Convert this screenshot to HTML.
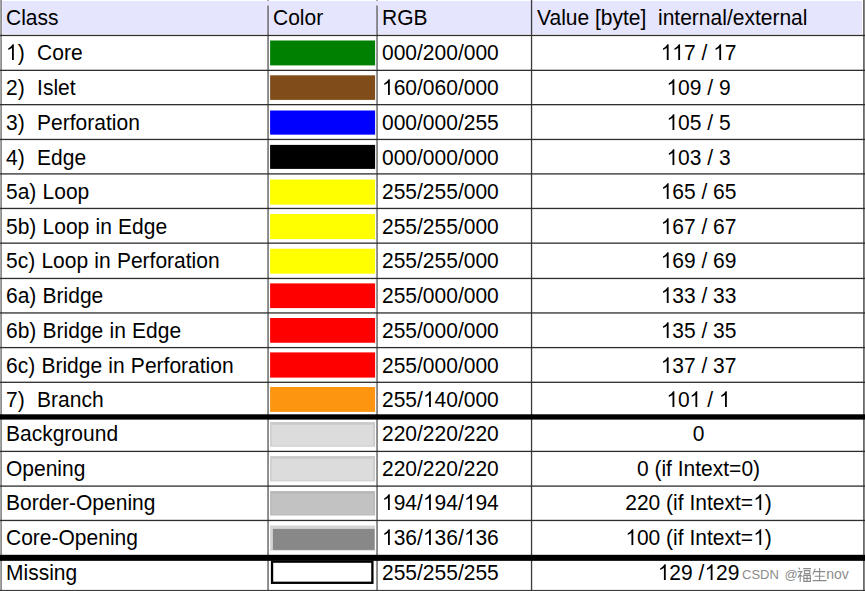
<!DOCTYPE html>
<html><head><meta charset="utf-8"><style>
html,body{margin:0;padding:0;background:#fff;}
#c{position:relative;width:865px;height:591px;overflow:hidden;background:#fff;font-family:"Liberation Sans",sans-serif;color:#000;}
svg{position:absolute;left:0;top:0;}
.t{position:absolute;white-space:pre;line-height:24px;height:24px;font-size:22px;transform:scaleX(0.954545);transform-origin:0 0;}
.c{text-align:center;transform-origin:50% 0;}
.w{word-spacing:0.4px;}
svg.o{position:static;vertical-align:baseline;display:inline;}
.wm{position:absolute;white-space:pre;font-size:13px;line-height:16px;color:#8c8c8c;}
</style></head><body><div id="c">
<svg width="865" height="591" viewBox="0 0 865 591">
<rect x="2.3" y="0.9" width="859.8" height="33" fill="#e5e5fd"/>
<rect x="270.1" y="40.5" width="105" height="24.9" fill="#008000"/>
<rect x="270.1" y="75.3" width="105" height="24.6" fill="#804d1a"/>
<rect x="270.1" y="110.5" width="105" height="24.15" fill="#0000ff"/>
<rect x="270.1" y="144.9" width="105" height="24" fill="#000000"/>
<rect x="270.1" y="179.5" width="105" height="25.15" fill="#ffff00"/>
<rect x="270.1" y="214" width="105" height="25.1" fill="#ffff00"/>
<rect x="270.1" y="248.75" width="105" height="24.95" fill="#ffff00"/>
<rect x="270.1" y="283.4" width="105" height="24.7" fill="#ff0000"/>
<rect x="270.1" y="318" width="105" height="24.75" fill="#ff0000"/>
<rect x="270.1" y="352.4" width="105" height="25.2" fill="#ff0000"/>
<rect x="270.1" y="387" width="105" height="24.9" fill="#fe9510"/>
<rect x="270.1" y="422" width="105" height="24.7" fill="#cbcbcb"/>
<rect x="271.6" y="424.8" width="101.5" height="20.9" fill="#dcdcdc"/>
<rect x="270.1" y="456" width="105" height="25.4" fill="#cbcbcb"/>
<rect x="271.6" y="458.8" width="101.5" height="21.6" fill="#dcdcdc"/>
<rect x="270.1" y="491" width="105" height="24.5" fill="#bababa"/>
<rect x="271.6" y="493.8" width="101.5" height="20.7" fill="#c2c2c2"/>
<rect x="270.1" y="525.5" width="105" height="25.15" fill="#d4d4d4"/>
<rect x="272.9" y="528.9" width="101.7" height="21" fill="#888888"/>
<rect x="272.05" y="561.65" width="100.35" height="21.15" fill="none" stroke="#000" stroke-width="2.3"/>
<rect x="0.2" y="0" width="1.8" height="591" fill="#8e8e8e"/>
<rect x="267.3" y="5.5" width="1.5" height="586" fill="#6c6c6c"/>
<rect x="267.3" y="0" width="1.5" height="0.8" fill="#6c6c6c"/>
<rect x="376.3" y="5.5" width="1.5" height="586" fill="#6c6c6c"/>
<rect x="376.3" y="0" width="1.5" height="0.8" fill="#6c6c6c"/>
<rect x="530.9" y="0" width="1.3" height="591" fill="#3c3c3c"/>
<rect x="863.0" y="0" width="1.8" height="591" fill="#6a6a6a"/>
<rect x="0" y="34.8" width="865" height="1.3" fill="#2e2e2e"/>
<rect x="0" y="69.7" width="865" height="1.3" fill="#2e2e2e"/>
<rect x="0" y="104" width="865" height="1.3" fill="#2e2e2e"/>
<rect x="0" y="138.8" width="865" height="1.3" fill="#2e2e2e"/>
<rect x="0" y="173.25" width="865" height="1.3" fill="#2e2e2e"/>
<rect x="0" y="207.8" width="865" height="1.3" fill="#2e2e2e"/>
<rect x="0" y="242.5" width="865" height="1.3" fill="#2e2e2e"/>
<rect x="0" y="277.8" width="865" height="1.3" fill="#2e2e2e"/>
<rect x="0" y="312.3" width="865" height="1.3" fill="#2e2e2e"/>
<rect x="0" y="346.95" width="865" height="1.3" fill="#2e2e2e"/>
<rect x="0" y="381.65" width="865" height="1.3" fill="#2e2e2e"/>
<rect x="0" y="450.75" width="865" height="1.3" fill="#2e2e2e"/>
<rect x="0" y="485.45" width="865" height="1.3" fill="#2e2e2e"/>
<rect x="0" y="519.8" width="865" height="1.3" fill="#2e2e2e"/>
<rect x="0" y="589.9" width="865" height="1.1" fill="#3c3c3c"/>
<rect x="0" y="414.3" width="865" height="5.3" fill="#000"/>
<rect x="0" y="554.8" width="865" height="6.05" fill="#000"/>
<g stroke="#8a8a8a" stroke-width="1.1" fill="none" stroke-linecap="butt"><path d="M798.6 567.6 L800 569.4 M797.6 571.6 H801.8 L798 577.6 M800.2 573.6 V581.8 M800.6 575.2 L802.6 576.6"/><path d="M803.2 568.6 H811 M804.4 570.6 H809.8 V573.6 H804.4 Z M803.8 575.4 H810.4 V581.4 H803.8 Z M807.1 575.4 V581.4 M803.8 578.4 H810.4"/><path d="M815.2 568.6 L812.8 574.6 M814.2 571.6 H825.2 M819.6 567.9 V580.6 M814.6 576.2 H824.6 M812.6 580.6 H826.6"/></g>
</svg>
<div class="t" style="left:6px;top:6px;">Class</div>
<div class="t" style="left:273.3px;top:6px;">Color</div>
<div class="t" style="left:382.1px;top:6px;">RGB</div>
<div class="t" style="left:537px;top:6px;">Value [byte]  internal/external</div>
<div class="t w" style="left:6.3px;top:41px;"><svg class="o" viewBox="0 0 1139 1500" width="12.236" height="16.113"><path d="M763 1500H583V353C538 396 478 439 412 477C346 515 280 548 223 570V396C318 351 403 297 476 233C549 169 613 100 646 34H763Z"/></svg>)  Core</div>
<div class="t" style="left:382.1px;top:41px;">000/200/000</div>
<div class="t c" style="left:531.7px;width:333px;top:41px"><svg class="o" viewBox="0 0 1139 1500" width="12.236" height="16.113"><path d="M763 1500H583V353C538 396 478 439 412 477C346 515 280 548 223 570V396C318 351 403 297 476 233C549 169 613 100 646 34H763Z"/></svg><svg class="o" viewBox="0 0 1139 1500" width="12.236" height="16.113"><path d="M763 1500H583V353C538 396 478 439 412 477C346 515 280 548 223 570V396C318 351 403 297 476 233C549 169 613 100 646 34H763Z"/></svg>7 / <svg class="o" viewBox="0 0 1139 1500" width="12.236" height="16.113"><path d="M763 1500H583V353C538 396 478 439 412 477C346 515 280 548 223 570V396C318 351 403 297 476 233C549 169 613 100 646 34H763Z"/></svg>7</div>
<div class="t w" style="left:6.3px;top:76px;">2)  Islet</div>
<div class="t" style="left:382.1px;top:76px;"><svg class="o" viewBox="0 0 1139 1500" width="12.236" height="16.113"><path d="M763 1500H583V353C538 396 478 439 412 477C346 515 280 548 223 570V396C318 351 403 297 476 233C549 169 613 100 646 34H763Z"/></svg>60/060/000</div>
<div class="t c" style="left:531.7px;width:333px;top:76px"><svg class="o" viewBox="0 0 1139 1500" width="12.236" height="16.113"><path d="M763 1500H583V353C538 396 478 439 412 477C346 515 280 548 223 570V396C318 351 403 297 476 233C549 169 613 100 646 34H763Z"/></svg>09 / 9</div>
<div class="t w" style="left:6.3px;top:111px;">3)  Perforation</div>
<div class="t" style="left:382.1px;top:111px;">000/000/255</div>
<div class="t c" style="left:531.7px;width:333px;top:111px"><svg class="o" viewBox="0 0 1139 1500" width="12.236" height="16.113"><path d="M763 1500H583V353C538 396 478 439 412 477C346 515 280 548 223 570V396C318 351 403 297 476 233C549 169 613 100 646 34H763Z"/></svg>05 / 5</div>
<div class="t w" style="left:6.3px;top:146px;">4)  Edge</div>
<div class="t" style="left:382.1px;top:146px;">000/000/000</div>
<div class="t c" style="left:531.7px;width:333px;top:146px"><svg class="o" viewBox="0 0 1139 1500" width="12.236" height="16.113"><path d="M763 1500H583V353C538 396 478 439 412 477C346 515 280 548 223 570V396C318 351 403 297 476 233C549 169 613 100 646 34H763Z"/></svg>03 / 3</div>
<div class="t w" style="left:6.3px;top:180px;">5a) Loop</div>
<div class="t" style="left:382.1px;top:180px;">255/255/000</div>
<div class="t c" style="left:531.7px;width:333px;top:180px"><svg class="o" viewBox="0 0 1139 1500" width="12.236" height="16.113"><path d="M763 1500H583V353C538 396 478 439 412 477C346 515 280 548 223 570V396C318 351 403 297 476 233C549 169 613 100 646 34H763Z"/></svg>65 / 65</div>
<div class="t w" style="left:6.3px;top:215px;">5b) Loop in Edge</div>
<div class="t" style="left:382.1px;top:215px;">255/255/000</div>
<div class="t c" style="left:531.7px;width:333px;top:215px"><svg class="o" viewBox="0 0 1139 1500" width="12.236" height="16.113"><path d="M763 1500H583V353C538 396 478 439 412 477C346 515 280 548 223 570V396C318 351 403 297 476 233C549 169 613 100 646 34H763Z"/></svg>67 / 67</div>
<div class="t w" style="left:6.3px;top:249px;">5c) Loop in Perforation</div>
<div class="t" style="left:382.1px;top:249px;">255/255/000</div>
<div class="t c" style="left:531.7px;width:333px;top:249px"><svg class="o" viewBox="0 0 1139 1500" width="12.236" height="16.113"><path d="M763 1500H583V353C538 396 478 439 412 477C346 515 280 548 223 570V396C318 351 403 297 476 233C549 169 613 100 646 34H763Z"/></svg>69 / 69</div>
<div class="t w" style="left:6.3px;top:284px;">6a) Bridge</div>
<div class="t" style="left:382.1px;top:284px;">255/000/000</div>
<div class="t c" style="left:531.7px;width:333px;top:284px"><svg class="o" viewBox="0 0 1139 1500" width="12.236" height="16.113"><path d="M763 1500H583V353C538 396 478 439 412 477C346 515 280 548 223 570V396C318 351 403 297 476 233C549 169 613 100 646 34H763Z"/></svg>33 / 33</div>
<div class="t w" style="left:6.3px;top:319px;">6b) Bridge in Edge</div>
<div class="t" style="left:382.1px;top:319px;">255/000/000</div>
<div class="t c" style="left:531.7px;width:333px;top:319px"><svg class="o" viewBox="0 0 1139 1500" width="12.236" height="16.113"><path d="M763 1500H583V353C538 396 478 439 412 477C346 515 280 548 223 570V396C318 351 403 297 476 233C549 169 613 100 646 34H763Z"/></svg>35 / 35</div>
<div class="t w" style="left:6.3px;top:354px;">6c) Bridge in Perforation</div>
<div class="t" style="left:382.1px;top:354px;">255/000/000</div>
<div class="t c" style="left:531.7px;width:333px;top:354px"><svg class="o" viewBox="0 0 1139 1500" width="12.236" height="16.113"><path d="M763 1500H583V353C538 396 478 439 412 477C346 515 280 548 223 570V396C318 351 403 297 476 233C549 169 613 100 646 34H763Z"/></svg>37 / 37</div>
<div class="t w" style="left:6.3px;top:388px;">7)  Branch</div>
<div class="t" style="left:382.1px;top:388px;">255/<svg class="o" viewBox="0 0 1139 1500" width="12.236" height="16.113"><path d="M763 1500H583V353C538 396 478 439 412 477C346 515 280 548 223 570V396C318 351 403 297 476 233C549 169 613 100 646 34H763Z"/></svg>40/000</div>
<div class="t c" style="left:531.7px;width:333px;top:388px"><svg class="o" viewBox="0 0 1139 1500" width="12.236" height="16.113"><path d="M763 1500H583V353C538 396 478 439 412 477C346 515 280 548 223 570V396C318 351 403 297 476 233C549 169 613 100 646 34H763Z"/></svg>0<svg class="o" viewBox="0 0 1139 1500" width="12.236" height="16.113"><path d="M763 1500H583V353C538 396 478 439 412 477C346 515 280 548 223 570V396C318 351 403 297 476 233C549 169 613 100 646 34H763Z"/></svg> / <svg class="o" viewBox="0 0 1139 1500" width="12.236" height="16.113"><path d="M763 1500H583V353C538 396 478 439 412 477C346 515 280 548 223 570V396C318 351 403 297 476 233C549 169 613 100 646 34H763Z"/></svg></div>
<div class="t w" style="left:6.3px;top:422px;">Background</div>
<div class="t" style="left:382.1px;top:422px;">220/220/220</div>
<div class="t c" style="left:531.7px;width:333px;top:422px">0</div>
<div class="t w" style="left:6.3px;top:457px;">Opening</div>
<div class="t" style="left:382.1px;top:457px;">220/220/220</div>
<div class="t c" style="left:531.7px;width:333px;top:457px">0 (if Intext=0)</div>
<div class="t w" style="left:6.3px;top:491px;">Border-Opening</div>
<div class="t" style="left:382.1px;top:491px;"><svg class="o" viewBox="0 0 1139 1500" width="12.236" height="16.113"><path d="M763 1500H583V353C538 396 478 439 412 477C346 515 280 548 223 570V396C318 351 403 297 476 233C549 169 613 100 646 34H763Z"/></svg>94/<svg class="o" viewBox="0 0 1139 1500" width="12.236" height="16.113"><path d="M763 1500H583V353C538 396 478 439 412 477C346 515 280 548 223 570V396C318 351 403 297 476 233C549 169 613 100 646 34H763Z"/></svg>94/<svg class="o" viewBox="0 0 1139 1500" width="12.236" height="16.113"><path d="M763 1500H583V353C538 396 478 439 412 477C346 515 280 548 223 570V396C318 351 403 297 476 233C549 169 613 100 646 34H763Z"/></svg>94</div>
<div class="t c" style="left:531.7px;width:333px;top:491px">220 (if Intext=<svg class="o" viewBox="0 0 1139 1500" width="12.236" height="16.113"><path d="M763 1500H583V353C538 396 478 439 412 477C346 515 280 548 223 570V396C318 351 403 297 476 233C549 169 613 100 646 34H763Z"/></svg>)</div>
<div class="t w" style="left:6.3px;top:526px;">Core-Opening</div>
<div class="t" style="left:382.1px;top:526px;"><svg class="o" viewBox="0 0 1139 1500" width="12.236" height="16.113"><path d="M763 1500H583V353C538 396 478 439 412 477C346 515 280 548 223 570V396C318 351 403 297 476 233C549 169 613 100 646 34H763Z"/></svg>36/<svg class="o" viewBox="0 0 1139 1500" width="12.236" height="16.113"><path d="M763 1500H583V353C538 396 478 439 412 477C346 515 280 548 223 570V396C318 351 403 297 476 233C549 169 613 100 646 34H763Z"/></svg>36/<svg class="o" viewBox="0 0 1139 1500" width="12.236" height="16.113"><path d="M763 1500H583V353C538 396 478 439 412 477C346 515 280 548 223 570V396C318 351 403 297 476 233C549 169 613 100 646 34H763Z"/></svg>36</div>
<div class="t c" style="left:531.7px;width:333px;top:526px"><svg class="o" viewBox="0 0 1139 1500" width="12.236" height="16.113"><path d="M763 1500H583V353C538 396 478 439 412 477C346 515 280 548 223 570V396C318 351 403 297 476 233C549 169 613 100 646 34H763Z"/></svg>00 (if Intext=<svg class="o" viewBox="0 0 1139 1500" width="12.236" height="16.113"><path d="M763 1500H583V353C538 396 478 439 412 477C346 515 280 548 223 570V396C318 351 403 297 476 233C549 169 613 100 646 34H763Z"/></svg>)</div>
<div class="t w" style="left:6.3px;top:561px;">Missing</div>
<div class="t" style="left:382.1px;top:561px;">255/255/255</div>
<div class="t c" style="left:531.7px;width:333px;top:561px"><svg class="o" viewBox="0 0 1139 1500" width="12.236" height="16.113"><path d="M763 1500H583V353C538 396 478 439 412 477C346 515 280 548 223 570V396C318 351 403 297 476 233C549 169 613 100 646 34H763Z"/></svg>29 /<svg class="o" viewBox="0 0 1139 1500" width="12.236" height="16.113"><path d="M763 1500H583V353C538 396 478 439 412 477C346 515 280 548 223 570V396C318 351 403 297 476 233C549 169 613 100 646 34H763Z"/></svg>29</div>
<div class="wm" style="left:742px;top:567px">CSDN</div>
<div class="wm" style="left:784.6px;top:567px">@</div>
<div class="wm" style="left:826.3px;top:567px;font-size:14px;top:566.2px">nov</div>
</div></body></html>
